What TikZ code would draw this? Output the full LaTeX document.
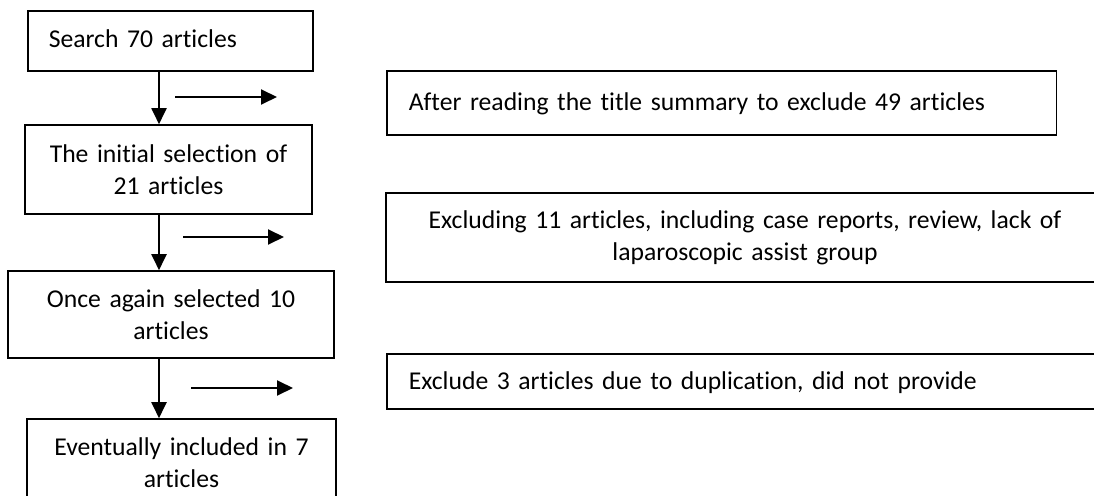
\documentclass[tikz,border=0pt]{standalone}
\usepackage{fontspec}
\setmainfont{Carlito}[Ligatures=NoCommon]
\usepackage{tikz}
\usetikzlibrary{arrows.meta}

\begin{document}
\begin{tikzpicture}[x=0.02cm, y=-0.02cm,
    box/.style={draw, line width=0.9pt, inner sep=0pt,
      font=\fontsize{14.6}{18.2}\selectfont},
    flow/.style={-{Triangle[length=0.32cm, width=0.3cm]}, line width=1.1pt}]
          \useasboundingbox (0,0) rectangle (1094,496);
          \clip (0,0) rectangle (1094,496);

          % left column
          \node[box, anchor=north west, align=left, inner xsep=0.42cm,
                text width=4.86cm, text height=0.734cm, text depth=0.466cm]
                (search) at (27,10) {Search 70 articles};
          \node[box, align=center, text width=5.74cm, minimum height=1.78cm]
                (initial) at (168.5,169.5) {The initial selection of\\21 articles};
          \node[box, align=center, text width=6.52cm, minimum height=1.74cm]
                (again) at (171,314.5) {Once again selected 10\\articles};
          \node[box, align=center, text width=6.18cm, minimum height=1.76cm]
                (included) at (181.5,463) {Eventually included in 7\\articles};

          % right column
          \node[box, anchor=north west, align=left, inner xsep=0.44cm,
                text width=12.52cm, text height=0.786cm, text depth=0.494cm]
                (titles) at (386,70) {After reading the title summary to exclude 49 articles};
          \node[box, align=center, text width=14.36cm, minimum height=1.78cm]
                (reasons) at (745,237.5) {Excluding 11 articles, including case reports, review, lack of\\laparoscopic assist group};
          \node[box, anchor=north west, align=left, inner xsep=0.44cm,
                text width=15.12cm, text height=0.72cm, text depth=0.38cm]
                (dupes) at (386,353) {Exclude 3 articles due to duplication, did not provide};

          \coordinate (spine) at (159,0);
          \coordinate (out1) at (175,97);   \coordinate (out1t) at (277,97);
          \coordinate (out2) at (183,237);  \coordinate (out2t) at (284,237);
          \coordinate (out3) at (191,388);  \coordinate (out3t) at (293,388);

          \draw[flow] (search.south -| spine) -- (initial.north -| spine);
          \draw[flow] (initial.south -| spine) -- (again.north -| spine);
          \draw[flow] (again.south -| spine) -- (included.north -| spine);
          \draw[flow] (out1) -- (out1t);
          \draw[flow] (out2) -- (out2t);
          \draw[flow] (out3) -- (out3t);
        \end{tikzpicture}
\end{document}
